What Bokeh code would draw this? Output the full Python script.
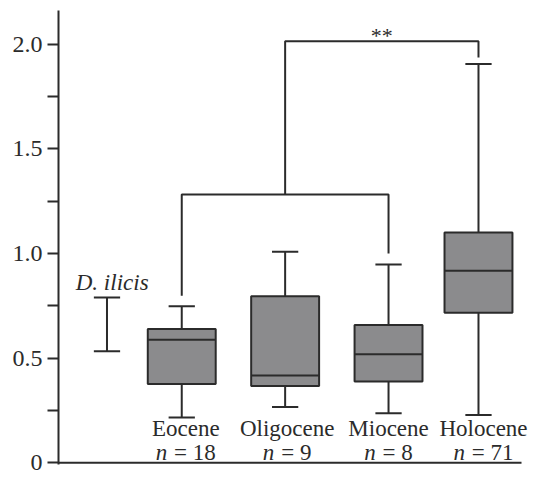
from bokeh.plotting import figure
from bokeh.models import FixedTicker, Range1d
from bokeh.core.properties import value
from bokeh.embed import file_html
from bokeh.resources import INLINE

# ---- data ----
groups = ["Eocene", "Oligocene", "Miocene", "Holocene"]
counts = [18, 9, 8, 71]
xpos = [1.0, 2.0, 3.0, 3.87]
whisk_lo = [0.217, 0.267, 0.237, 0.228]
q1 = [0.377, 0.367, 0.388, 0.717]
median = [0.588, 0.417, 0.519, 0.917]
q3 = [0.639, 0.796, 0.658, 1.100]
whisk_hi = [0.748, 1.008, 0.947, 1.904]

ref_label = "D. ilicis"
ref_x = 0.277
ref_lo = 0.533
ref_hi = 0.789

y_ticks = [0, 0.5, 1.0, 1.5, 2.0]
y_minor = [0.25, 0.75, 1.25, 1.75]
y_tick_labels = ["0", "0.5", "1.0", "1.5", "2.0"]

# significance brackets
br1_y = 1.281
br1_drop = [0.798, 0.999]   # Eocene side, Miocene side
br2_y = 2.013
br2_drop = 1.935
sig_text = "**"

INK = "#2b2b2b"
FILL = "#8b8b8d"
SERIF = "Liberation Serif"

X0, X_AXIS_END = -0.192, 4.286
# frame extends to the canvas edge so the last label is not clipped
X1 = X0 + (X_AXIS_END - X0) * (531 - 58) / (521 - 58)

p = figure(width=531, height=474, output_backend="svg", toolbar_location=None,
           x_range=Range1d(X0, X1), y_range=Range1d(-0.008, 2.16),
           min_border_left=58, min_border_right=0, min_border_top=10,
           min_border_bottom=10)
p.outline_line_color = None
p.grid.visible = False
p.background_fill_color = "white"

# y axis
yax = p.yaxis[0]
yax.ticker = FixedTicker(ticks=y_ticks, minor_ticks=y_minor)
yax.major_label_overrides = {t: l for t, l in zip(y_ticks, y_tick_labels)}
yax.axis_line_color = INK
yax.axis_line_width = 2
yax.major_tick_line_color = INK
yax.major_tick_line_width = 2
yax.minor_tick_line_color = INK
yax.minor_tick_line_width = 2
yax.major_tick_in = 0
yax.major_tick_out = 11
yax.minor_tick_in = 0
yax.minor_tick_out = 11
yax.major_label_standoff = 5
yax.major_label_text_font = SERIF
yax.major_label_text_font_size = "24px"
yax.major_label_text_color = INK

p.xaxis.visible = False
# bottom baseline
p.segment(x0=[X0], y0=[0], x1=[X_AXIS_END], y1=[0], line_color=INK, line_width=2)

bw = 0.657
cw = 0.254

# whiskers
p.segment(x0=xpos, y0=whisk_lo, x1=xpos, y1=q1, line_color=INK, line_width=2)
p.segment(x0=xpos, y0=q3, x1=xpos, y1=whisk_hi, line_color=INK, line_width=2)
p.segment(x0=[x - cw / 2 for x in xpos], y0=whisk_lo, x1=[x + cw / 2 for x in xpos],
          y1=whisk_lo, line_color=INK, line_width=2)
p.segment(x0=[x - cw / 2 for x in xpos], y0=whisk_hi, x1=[x + cw / 2 for x in xpos],
          y1=whisk_hi, line_color=INK, line_width=2)
# boxes
p.quad(left=[x - bw / 2 for x in xpos], right=[x + bw / 2 for x in xpos],
       bottom=q1, top=q3, fill_color=FILL, line_color=INK, line_width=2)
p.segment(x0=[x - bw / 2 for x in xpos], y0=median, x1=[x + bw / 2 for x in xpos],
          y1=median, line_color=INK, line_width=2)

# reference range
p.segment(x0=[ref_x], y0=[ref_lo], x1=[ref_x], y1=[ref_hi], line_color=INK, line_width=2)
p.segment(x0=[ref_x - cw / 2] * 2, y0=[ref_lo, ref_hi], x1=[ref_x + cw / 2] * 2,
          y1=[ref_lo, ref_hi], line_color=INK, line_width=2)
p.text(x=[ref_x + 0.05], y=[ref_hi + 0.07], text=[ref_label], text_font=value(SERIF),
       text_font_style="italic", text_font_size="23px", text_color=INK,
       text_align="center", text_baseline="middle")

# brackets
x_e, x_o, x_m, x_h = xpos
p.multi_line(xs=[[x_e, x_e, x_m, x_m], [x_o, x_o, x_h, x_h]],
             ys=[[br1_drop[0], br1_y, br1_y, br1_drop[1]],
                 [br1_y, br2_y, br2_y, br2_drop]],
             line_color=INK, line_width=2)
p.text(x=[(x_o + x_h) / 2], y=[br2_y + 0.03], text=[sig_text], text_font=value(SERIF),
       text_font_size="22px", text_color=INK, text_align="center", text_baseline="middle")

# category labels (small per-label horizontal nudges, in pixels)
nudge = [4, 2, 0, 5]
for x, g, dx in zip(xpos, groups, nudge):
    p.text(x=[x], y=[0.165], text=[g], text_font=value(SERIF),
           text_font_size="23px", text_color=INK, text_align="center",
           text_baseline="middle", x_offset=dx)

fs = 23
for x, n, dx in zip(xpos, counts, nudge):
    rest = "= " + str(n)
    w_n = 0.5 * fs
    w_rest = (0.564 + 0.25 + 0.5 * len(str(n))) * fs
    total = w_n + 0.3 * fs + w_rest
    p.text(x=[x], y=[0.05], text=["n"], text_font=value(SERIF),
           text_font_style="italic", text_font_size=f"{fs}px", text_color=INK,
           text_align="left", text_baseline="middle", x_offset=dx - total / 2)
    p.text(x=[x], y=[0.05], text=[rest], text_font=value(SERIF),
           text_font_size=f"{fs}px", text_color=INK,
           text_align="right", text_baseline="middle", x_offset=dx + total / 2)

open("out.html", "w").write(file_html(p, INLINE))
